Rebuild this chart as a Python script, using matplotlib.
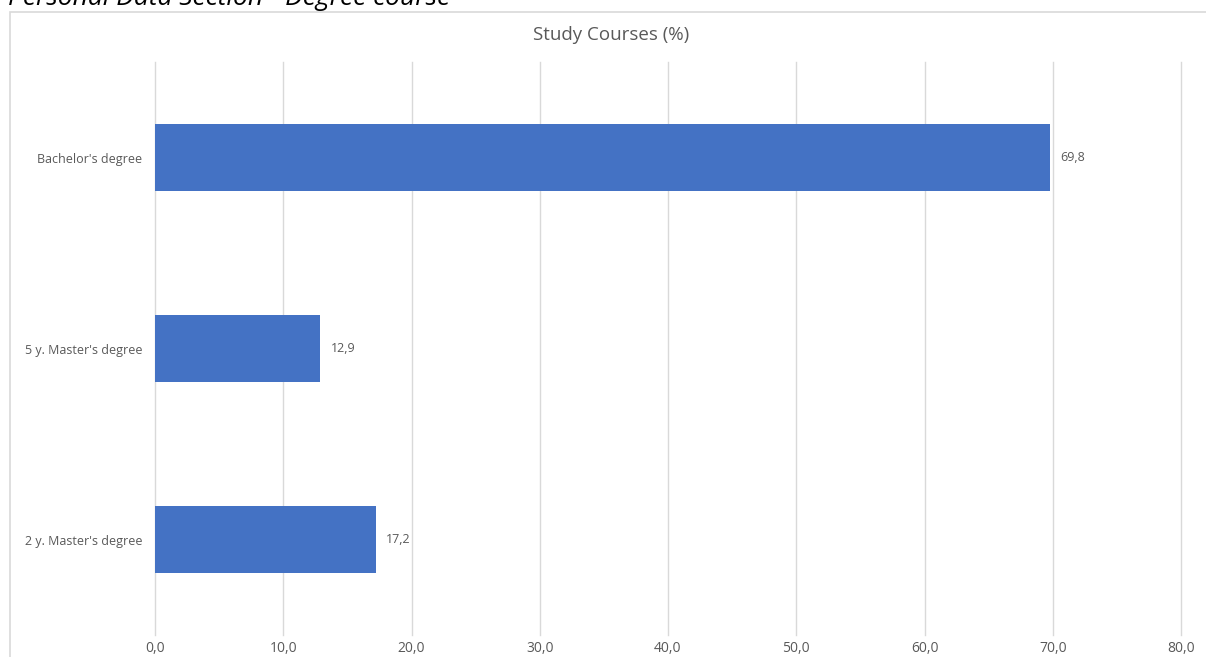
import matplotlib.pyplot as plt
from matplotlib.patches import Rectangle
from matplotlib.ticker import FuncFormatter

courses = ["Bachelor's degree", "5 y. Master's degree", "2 y. Master's degree"]
shares = [69.8, 12.9, 17.2]
xticks = [0, 10, 20, 30, 40, 50, 60, 70, 80]

plt.rcParams['font.family'] = ['Open Sans', 'DejaVu Sans']
grey = '#595959'

fig = plt.figure(figsize=(12.06, 6.57), dpi=100)
# chart frame
fig.patches.append(Rectangle((10/1206, -0.01), 1.0, 1 - 12/657 + 0.01, transform=fig.transFigure,
                             fill=False, edgecolor='#d9d9d9', linewidth=1.2))
fig.text(8/1206, 1 - 5/657, 'Personal Data Section - Degree course', fontsize=19, style='italic',
         color='black', va='baseline', ha='left')
fig.text(611/1206, 1 - 35/657, 'Study Courses (%)', fontsize=13.5, color=grey, ha='center', va='center')

ax = fig.add_axes([155/1206, 1 - 635/657, (1181 - 155)/1206, (635 - 62)/657])
ax.barh(range(len(courses)), shares, height=0.35, color='#4472C4', zorder=3)
for i, v in enumerate(shares):
    ax.text(v + 0.8, i, f'{v:.1f}'.replace('.', ','), va='center', ha='left', fontsize=9, color=grey)

ax.set_xlim(0, 80)
ax.set_ylim(2.5, -0.5)
ax.set_xticks(xticks)
ax.xaxis.set_major_formatter(FuncFormatter(lambda x, p: f'{x:.1f}'.replace('.', ',')))
ax.set_yticks(range(len(courses)))
ax.set_yticklabels(courses, fontsize=9, color=grey)
ax.tick_params(axis='x', labelsize=10, labelcolor=grey, length=0, pad=4)
ax.tick_params(axis='y', length=0, pad=9)
ax.grid(axis='x', color='#d9d9d9', linewidth=1, zorder=0)
for gl in ax.get_xgridlines():
    gl.set_clip_on(False)
for s in ax.spines.values():
    s.set_visible(False)

fig.savefig('out.png', dpi=100)
